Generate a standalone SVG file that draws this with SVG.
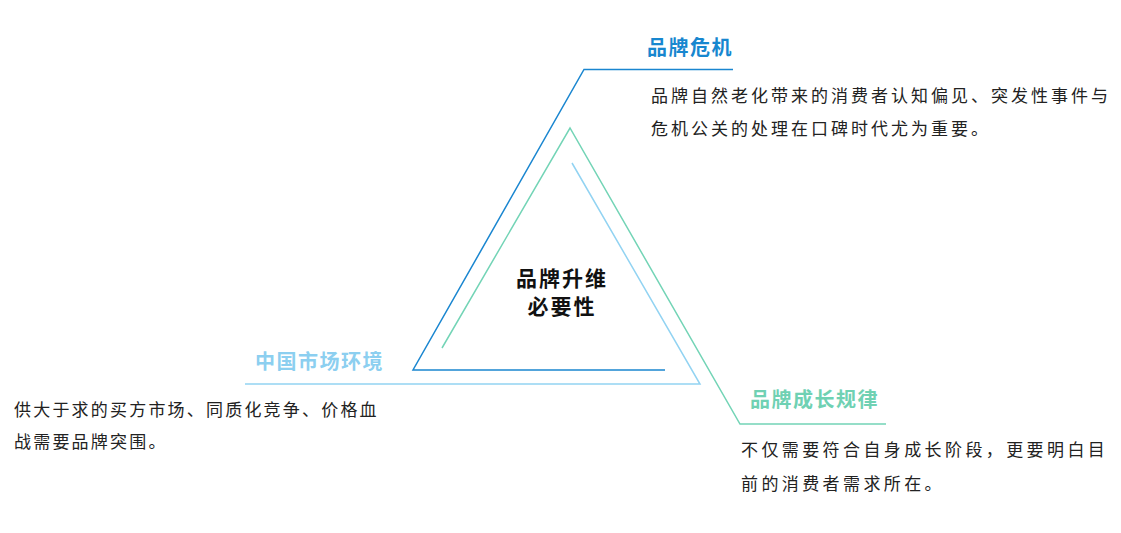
<svg xmlns="http://www.w3.org/2000/svg" width="1121" height="533" viewBox="0 0 1121 533">
<style>
.t{font-family:"Noto Sans CJK SC","Noto Sans",sans-serif}
.title{font-size:20px;font-weight:bold;letter-spacing:1.5px}
.body{font-size:17px;fill:#222}
.ctr{font-size:21px;font-weight:bold;fill:#111;letter-spacing:2px}
.ln{fill:none;stroke-width:1.5}
</style>
<rect width="1121" height="533" fill="#fff"/>
<g id="connectors">
<polyline class="ln" stroke="#1a86d0" points="733,69.5 584,69.5 413,370 665,370"/>
<polyline class="ln" stroke="#73d4b6" points="442,348 570,128 740,424 886,424"/>
<polyline class="ln" stroke="#92d3f2" points="572,163 700,384 245,384"/>
</g>
<g id="center">
<text class="t ctr" x="562" y="286" text-anchor="middle">品牌升维</text>
<text class="t ctr" x="562" y="314" text-anchor="middle">必要性</text>
</g>
<g id="node-crisis">
<text class="t title" x="647" y="55" fill="#1787cf">品牌危机</text>
<text class="t body" x="651" y="102" letter-spacing="3">品牌自然老化带来的消费者认知偏见、突发性事件与</text>
<text class="t body" x="651" y="135" letter-spacing="3">危机公关的处理在口碑时代尤为重要。</text>
</g>
<g id="node-market">
<text class="t title" x="255" y="369" fill="#8ccff0" font-weight="500" letter-spacing="2.4">中国市场环境</text>
<text class="t body" x="14" y="416" letter-spacing="2.2">供大于求的买方市场、同质化竞争、价格血</text>
<text class="t body" x="14" y="448" letter-spacing="2.2">战需要品牌突围。</text>
</g>
<g id="node-growth">
<text class="t title" x="750" y="407" fill="#6fd1b3" letter-spacing="1.8">品牌成长规律</text>
<text class="t body" x="741" y="456" letter-spacing="3.4">不仅需要符合自身成长阶段，更要明白目</text>
<text class="t body" x="741" y="490" letter-spacing="3.4">前的消费者需求所在。</text>
</g>
</svg>
